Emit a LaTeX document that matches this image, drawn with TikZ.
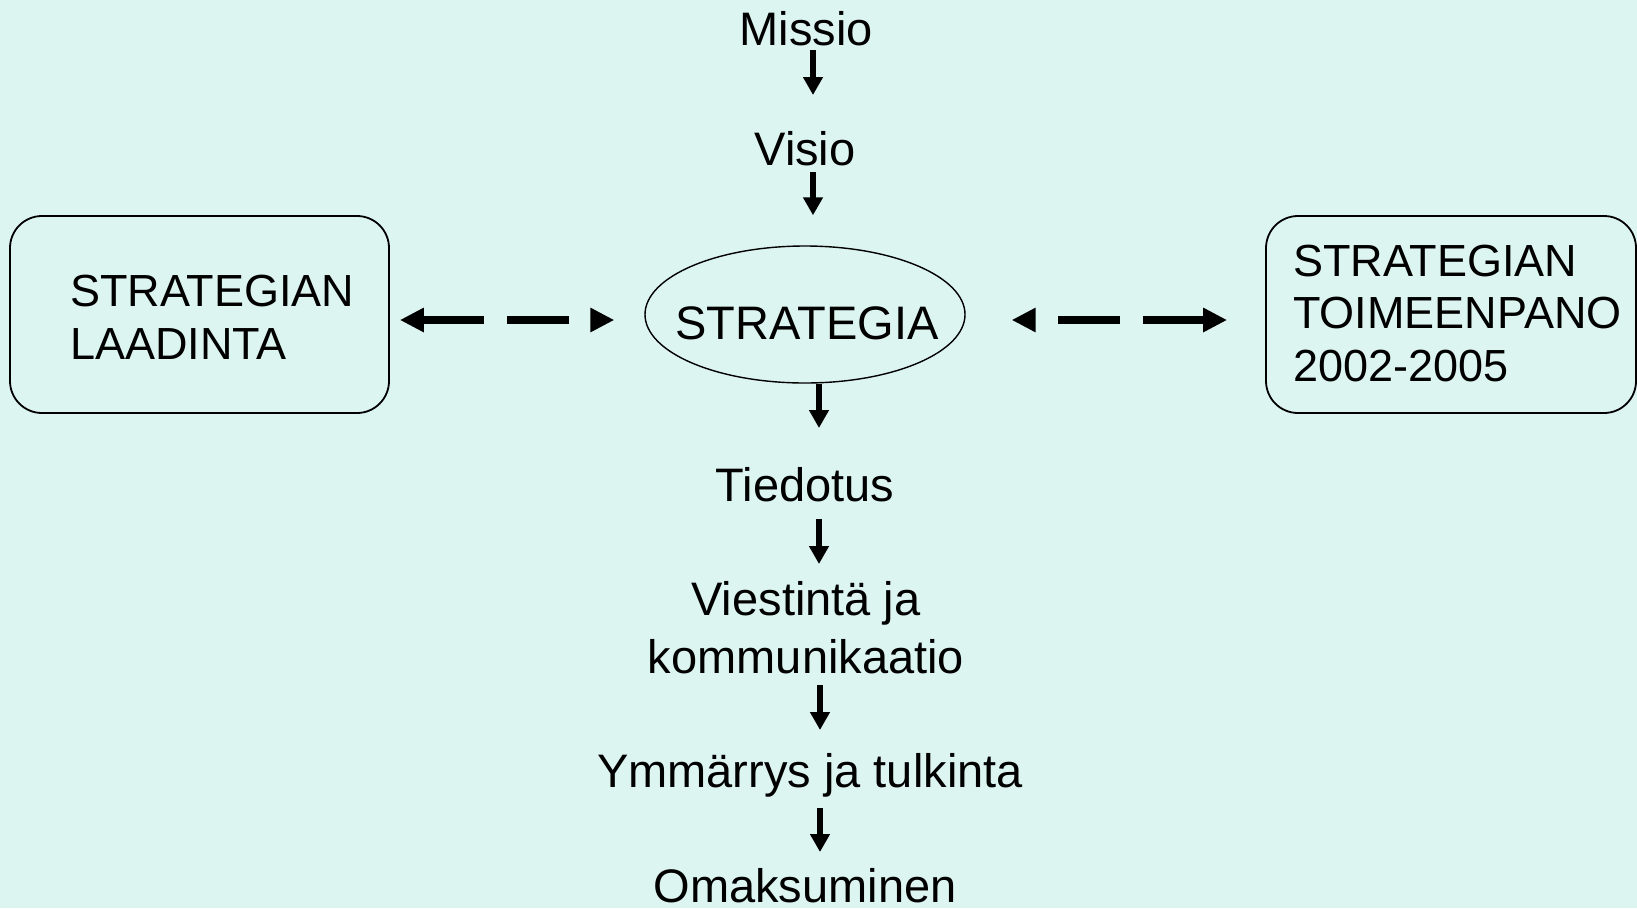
\documentclass[tikz,border=0pt]{standalone}
\usepackage{fontspec}
\setmainfont{Liberation Sans}
\usetikzlibrary{arrows.meta,shapes.geometric,calc}
\definecolor{bgcol}{RGB}{221,245,241}
\begin{document}
\begin{tikzpicture}[x=1pt,y=-1pt,
  lbl/.style={anchor=base,inner sep=0pt,align=center,font=\fontsize{47}{58}\selectfont},
  boxtext/.style={anchor=base west,inner sep=0pt,align=left,font=\fontsize{45}{52.5}\selectfont},
  panel/.style={draw,line width=1.8pt,rounded corners=32pt,inner sep=0pt},
  varr/.style={line width=6.5pt,-{Triangle[length=18pt,width=19pt]}},
  dasharr/.style={line width=7.5pt,dash pattern=on 62pt off 23pt,
    {Triangle[length=24pt,width=23pt]}-{Triangle[length=24pt,width=23pt]}}]
  % page and background
  \fill[bgcol] (0,0) rectangle (1637,908);
  \useasboundingbox (0,0) rectangle (1637,908);

  % side panels (multi-line texts are placed by their last baseline)
  \node[panel,minimum width=379pt,minimum height=197pt] (laadinta) at (199.5,314.5) {};
  \node[boxtext] (laadintatext) at (70,359) {STRATEGIAN\\LAADINTA};
  \node[panel,minimum width=370pt,minimum height=197pt] (toimeenpano) at (1451,314.5) {};
  \node[boxtext] (toimeenpanotext) at (1293,381) {STRATEGIAN\\TOIMEENPANO\\2002-2005};

  % central strategy ellipse
  \node[ellipse,draw,line width=1.4pt,minimum width=320pt,minimum height=137pt,inner sep=0pt]
    (strategia) at (805,314.5) {};
  \node[lbl] (strategiatext) at (807,339) {STRATEGIA};

  % chain of steps
  \node[lbl] (missio) at (806,45) {Missio};
  \node[lbl] (visio) at (805,165) {Visio};
  \node[lbl] (tiedotus) at (805,501) {Tiedotus};
  \node[lbl] (viestinta) at (806,673) {Viestintä ja\\kommunikaatio};
  \node[lbl] (ymmarrys) at (810,787) {Ymmärrys ja tulkinta};
  \node[lbl] (omaksuminen) at (805,902) {Omaksuminen};

  % downward arrows
  \draw[varr] ($(missio.base)+(7,5)$) -- ($(visio.base)+(8,-70)$);
  \draw[varr] ($(visio.base)+(8,7)$) -- ($(strategia.north)+(8,-30)$);
  \draw[varr] ($(strategia.south)+(14,0)$) -- ($(tiedotus.base)+(14,-73)$);
  \draw[varr] ($(tiedotus.base)+(14,18)$) -- ($(viestinta.base)+(13,-109)$);
  \draw[varr] ($(viestinta.base)+(14,12)$) -- ($(ymmarrys.base)+(10,-57)$);
  \draw[varr] ($(ymmarrys.base)+(10,21)$) -- ($(omaksuminen.base)+(15,-50)$);

  % dashed two-way links
  \draw[dasharr] ($(laadinta.east)+(10,5.5)$) -- ($(strategia.west)+(-30,5.5)$);
  \draw[dasharr] ($(toimeenpano.west)+(-38,5.5)$) -- ($(strategia.east)+(46,5.5)$);
\end{tikzpicture}
\end{document}
